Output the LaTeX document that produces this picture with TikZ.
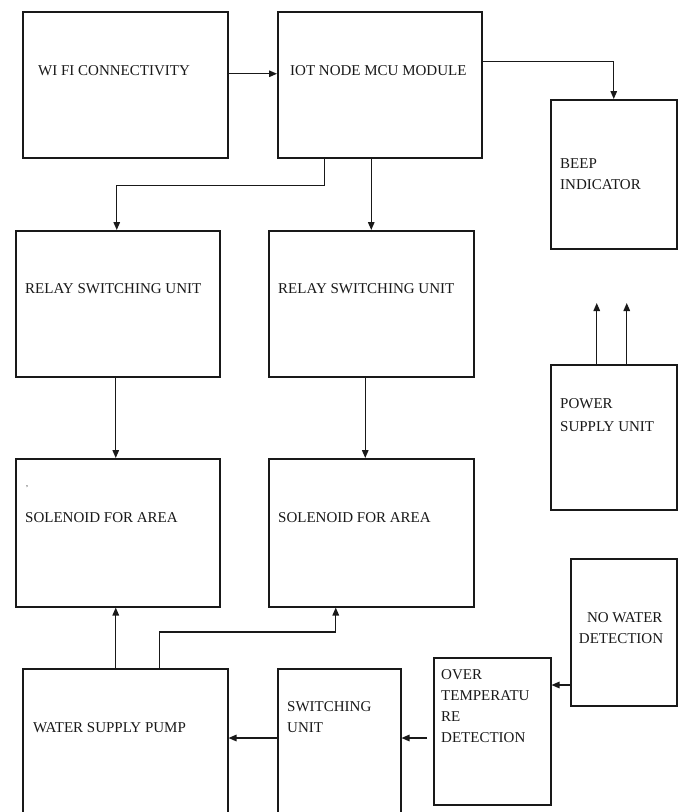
\documentclass[tikz,border=0pt]{standalone}
\usepackage{fontspec}
\setmainfont{Liberation Serif}
\usetikzlibrary{arrows.meta}
\begin{document}
\begin{tikzpicture}[x=1pt,y=-1pt,
  box/.style={draw=black!90, line width=1.5pt, inner sep=0pt, anchor=north west, fill=white},
  lbl/.style={inner sep=0pt, anchor=north west, align=left, font=\fontsize{15}{21}\selectfont, text=black!90},
  arr/.style={line width=1.4pt, draw=black!90, -{Triangle[length=8pt,width=6.5pt]}},
  wire/.style={line width=1.4pt, draw=black!90}]
\useasboundingbox (0,0) rectangle (678,812);
\clip (0,0) rectangle (678,812);
\fill[white] (0,0) rectangle (678,812);
% boxes
\node[box, minimum width=205pt, minimum height=146pt] (wifi) at (22,11) {};
\node[box, minimum width=204pt, minimum height=146pt] (iot) at (277,11) {};
\node[box, minimum width=126pt, minimum height=149pt] (beep) at (550,99) {};
\node[box, minimum width=204pt, minimum height=146pt] (relayA) at (15,230) {};
\node[box, minimum width=205pt, minimum height=146pt] (relayB) at (268,230) {};
\node[box, minimum width=126pt, minimum height=145pt] (power) at (550,364) {};
\node[box, minimum width=204pt, minimum height=148pt] (solA) at (15,458) {};
\node[box, minimum width=205pt, minimum height=148pt] (solB) at (268,458) {};
\node[box, minimum width=205pt, minimum height=230pt] (pump) at (22,668) {};
\node[box, minimum width=123pt, minimum height=230pt] (sw) at (277,668) {};
\node[box, minimum width=117pt, minimum height=147pt] (ot) at (433,657) {};
\node[box, minimum width=106pt, minimum height=147pt] (nw) at (570,558) {};
% texts
\node[lbl] (t1) at (38,65) {WI FI CONNECTIVITY};
\node[lbl] (t2) at (290,65) {IOT NODE MCU MODULE};
\node[lbl] (t3) at (560,158) {BEEP\\INDICATOR};
\node[lbl] (t4) at (25,283) {RELAY SWITCHING UNIT};
\node[lbl] (t5) at (278,283) {RELAY SWITCHING UNIT};
\node[lbl] (t6) at (560,398) {POWER\\[2pt]SUPPLY UNIT};
\node[lbl, font=\fontsize{8}{8}\selectfont] (t7) at (26,485) {,};
\node[lbl] (t8) at (25,512) {SOLENOID FOR AREA};
\node[lbl] (t9) at (278,512) {SOLENOID FOR AREA};
\node[lbl, anchor=north, align=center] (t10) at (621,612) {\ \ NO WATER\\DETECTION};
\node[lbl] (t11) at (441,669) {OVER\\TEMPERATU\\RE\\DETECTION};
\node[lbl] (t12) at (287,701) {SWITCHING\\UNIT};
\node[lbl] (t13) at (33,722) {WATER SUPPLY PUMP};
% connectors
\draw[arr] ([yshift=11pt]wifi.east) -- ([yshift=11pt]iot.west);
\draw[arr] ([yshift=23pt]iot.east) -| (beep.north);
\draw[arr] ([xshift=-55pt]iot.south) -- ++(0,27) -| ([xshift=-1pt]relayA.north);
\draw[arr] (relayB.north |- iot.south) -- (relayB.north);
\draw[arr] ([xshift=-2pt]relayA.south) -- ([xshift=-2pt]solA.north);
\draw[arr] ([xshift=-6pt]relayB.south) -- ([xshift=-6pt]solB.north);
\draw[arr] ([xshift=-17pt]power.north) -- ++(0,-61);
\draw[arr] ([xshift=13pt]power.north) -- ++(0,-61);
\draw[arr] ([xshift=-2pt]solA.south |- pump.north) -- ([xshift=-2pt]solA.south);
\draw[arr] ([xshift=34.5pt]pump.north) -- ++(0,-36) -| ([xshift=-35.5pt]solB.south);
\coordinate (a) at ([yshift=-70pt]sw.north west);
\coordinate (b) at ([yshift=-70pt]sw.north east);
\coordinate (c) at ([yshift=-28pt]ot.north east);
\draw[arr] (a) -- (a -| pump.east);
\draw[arr] ([xshift=-6pt]b -| ot.west) -- (b);
\draw[arr] (c -| nw.west) -- (c);
\end{tikzpicture}
\end{document}
